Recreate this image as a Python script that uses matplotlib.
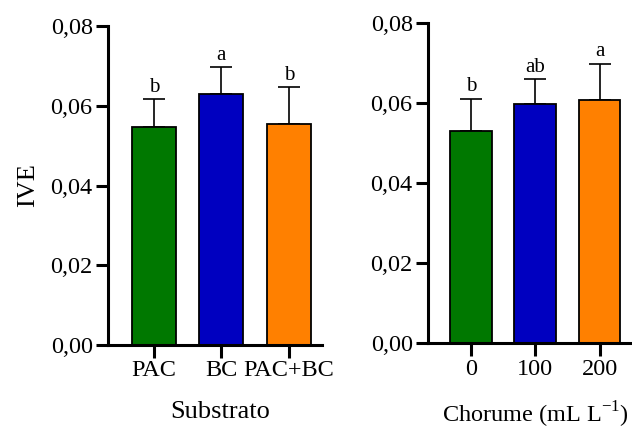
import matplotlib
matplotlib.use("Agg")
import matplotlib.pyplot as plt

plt.rcParams['font.family'] = ['Liberation Serif', 'DejaVu Serif']
plt.rcParams['mathtext.fontset'] = 'custom'
plt.rcParams['mathtext.rm'] = 'Liberation Serif'

sub_cats = ['PAC', 'BC', 'PAC+BC']
sub_vals = [0.0547, 0.0629, 0.0555]
sub_err = [0.0069, 0.0068, 0.0092]
sub_letters = ['b', 'a', 'b']

cho_cats = ['0', '100', '200']
cho_vals = [0.0531, 0.0598, 0.0607]
cho_err = [0.0080, 0.0062, 0.0092]
cho_letters = ['b', 'ab', 'a']

colors = ['#007800', '#0000C0', '#FF8000']
yticks = [0.0, 0.02, 0.04, 0.06, 0.08]
ytick_labels = ['0,00', '0,02', '0,04', '0,06', '0,08']

fig = plt.figure(figsize=(6.32, 4.29), dpi=100)
ax1 = fig.add_axes([108/632, 84/429, (322-108)/632, (345-26)/429])
ax2 = fig.add_axes([428/632, 85.7/429, (640-428)/632, (343.3-23.3)/429])

def draw(ax, cats, vals, errs, letters, xlim, xlabel, lx, ly, lsize):
    x = list(range(len(cats)))
    ax.errorbar(x, vals, yerr=[[0]*len(vals), errs], fmt='none', ecolor='black',
                elinewidth=1.2, capsize=8, capthick=1.2, zorder=1)
    ax.bar(x, vals, width=0.65, color=colors, edgecolor='black', linewidth=1.3, zorder=2)
    for xi, v, e, l in zip(x, vals, errs, letters):
        ax.text(xi, v + e + 0.0006, l, ha='center', va='bottom', fontsize=15)
    ax.set_xlim(*xlim)
    ax.set_ylim(0, 0.08)
    ax.set_xticks(x)
    ax.set_xticklabels(cats, fontsize=17.5)
    ax.set_yticks(yticks)
    ax.set_yticklabels(ytick_labels, fontsize=17.5)
    for s in ['top', 'right']:
        ax.spines[s].set_visible(False)
    for s in ['left', 'bottom']:
        ax.spines[s].set_linewidth(2.2)
    ax.tick_params(axis='both', direction='out', length=9, width=2.2, pad=2)
    ax.set_xlabel(xlabel, fontsize=lsize)
    ax.xaxis.set_label_coords(lx, ly)

draw(ax1, sub_cats, sub_vals, sub_err, sub_letters, (-0.68, 2.49), 'Substrato',
     0.523, -0.175, 19)
ax1.set_ylabel('IVE', fontsize=19, labelpad=8)
draw(ax2, cho_cats, cho_vals, cho_err, cho_letters, (-0.67, 2.63),
     'Chorume (mL L$^{\\mathregular{-1}}$)', 0.505, -0.175, 17.5)

fig.savefig('out.png', dpi=100)
